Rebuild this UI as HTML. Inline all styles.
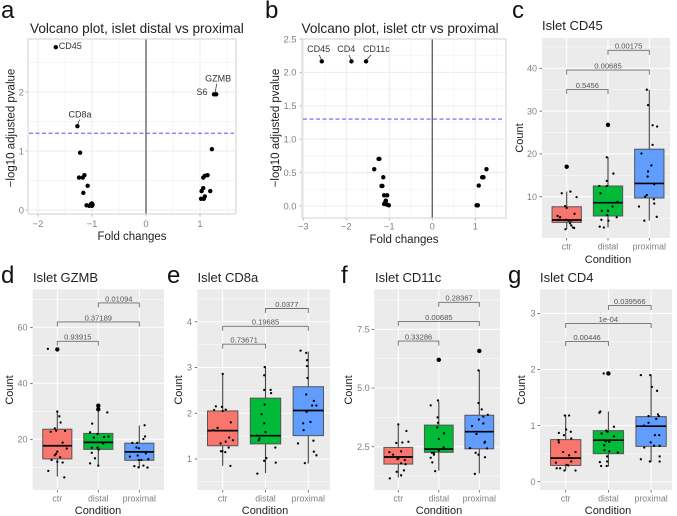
<!DOCTYPE html>
<html lang="en">
<head>
<meta charset="utf-8">
<title>Islet volcano and box plots</title>
<style>
html,body{margin:0;padding:0;background:#fff;width:677px;height:516px;overflow:hidden}
svg{display:block;font-family:"Liberation Sans",sans-serif}
.letter{font-size:24px;fill:#111}
.vtitle{font-size:13.6px;fill:#222}
.btitle{font-size:13px;fill:#222}
.axt{font-size:11.5px;fill:#222}
.axb{font-size:11px;fill:#222}
</style>
</head>
<body>
<svg id="fig" width="677" height="516" viewBox="0 0 677 516" xmlns="http://www.w3.org/2000/svg">
  <g id="panel-a"></g>
  <g id="panel-b"></g>
  <g id="panel-c"></g>
  <g id="panel-d"></g>
  <g id="panel-e"></g>
  <g id="panel-f"></g>
  <g id="panel-g"></g>

  <text class="letter" x="1" y="18">a</text>
  <text class="letter" x="265" y="18">b</text>
  <text class="letter" x="512" y="18">c</text>
  <text class="letter" x="1" y="283">d</text>
  <text class="letter" x="167" y="283">e</text>
  <text class="letter" x="341" y="283">f</text>
  <text class="letter" x="508" y="283">g</text>

  <text class="vtitle" x="30" y="33">Volcano plot, islet distal vs proximal</text>
  <text class="vtitle" x="301.5" y="33">Volcano plot, islet ctr vs proximal</text>
  <text class="btitle" x="542" y="30">Islet CD45</text>
  <text class="btitle" x="33" y="282">Islet GZMB</text>
  <text class="btitle" x="197.5" y="282">Islet CD8a</text>
  <text class="btitle" x="375" y="282">Islet CD11c</text>
  <text class="btitle" x="540" y="282">Islet CD4</text>

  <text class="axt" x="132" y="240" text-anchor="middle">Fold changes</text>
  <text class="axt" x="404" y="243" text-anchor="middle">Fold changes</text>
  <text class="axt" transform="translate(14.5 128) rotate(-90)" text-anchor="middle">−log10 adjusted pvalue</text>
  <text class="axt" transform="translate(279 128) rotate(-90)" text-anchor="middle">−log10 adjusted pvalue</text>

  <text class="axb" x="608" y="263" text-anchor="middle">Condition</text>
  <text class="axb" x="98" y="514" text-anchor="middle">Condition</text>
  <text class="axb" x="265" y="514" text-anchor="middle">Condition</text>
  <text class="axb" x="439" y="514" text-anchor="middle">Condition</text>
  <text class="axb" x="608" y="514" text-anchor="middle">Condition</text>

  <text class="axb" transform="translate(523 138) rotate(-90)" text-anchor="middle">Count</text>
  <text class="axb" transform="translate(13 390) rotate(-90)" text-anchor="middle">Count</text>
  <text class="axb" transform="translate(182 390) rotate(-90)" text-anchor="middle">Count</text>
  <text class="axb" transform="translate(352 390) rotate(-90)" text-anchor="middle">Count</text>
  <text class="axb" transform="translate(525 390) rotate(-90)" text-anchor="middle">Count</text>
</svg>

<script>
// ---------- shared data ----------
const categories = ['ctr', 'distal', 'proximal'];
const significanceLevel = 1.301;

// ---------- volcano a ----------
const volcanoAXTicks = [-2, -1, 0, 1];
const volcanoAYTicks = [0, 1, 2];
const volcanoAPoints = [[-1.67,2.76],[-1.27,1.42],[-1.22,0.97],[-1.24,0.55],[-1.17,0.55],[-1.14,0.59],[-1.08,0.41],[-1.16,0.29],[-1.10,0.08],[-1.05,0.07],[-1.0,0.11],[-1.0,0.07],[-1.02,0.10],[-0.99,0.09],[1.26,1.96],[1.30,1.96],[1.22,1.03],[1.06,0.55],[1.09,0.58],[1.14,0.59],[1.06,0.37],[1.03,0.32],[1.19,0.32],[1.02,0.19],[1.07,0.19],[1.09,0.23]];
const volcanoALabelled = [['CD45',-1.67,2.76],['CD8a',-1.27,1.42],['GZMB',1.30,1.96],['S6',1.26,1.96]];

// ---------- volcano b ----------
const volcanoBXTicks = [-3, -2, -1, 0, 1];
const volcanoBYTicks = [0, 0.5, 1, 1.5, 2, 2.5];
const volcanoBTickText = ['0.0', '0.5', '1.0', '1.5', '2.0', '2.5'];
const volcanoBPoints = [[-2.57,2.165],[-1.88,2.165],[-1.54,2.165],[-1.23,0.705],[-1.25,0.705],[-1.35,0.55],[-1.14,0.43],[-1.18,0.3],[-1.16,0.3],[-1.12,0.16],[-1.05,0.16],[-1.09,0.065],[-1.08,0.08],[-1.12,0.03],[-1.05,0.02],[-1.01,0.01],[-1.10,0.03],[1.03,0.01],[1.06,0.01],[1.08,0.305],[1.19,0.43],[1.16,0.43],[1.26,0.55]];
const volcanoBLabelled = [['CD45',-2.57,2.165],['CD4',-1.88,2.165],['CD11c',-1.54,2.165]];

// ---------- box plots: [low whisker, q1, median, q3, high whisker] ----------
const cd45Ticks = [10, 20, 30, 40];
const cd45Box = [[2.4,4.0,4.55,7.65,11.2],[2.8,5.5,8.6,12.5,19.3],[4.4,9.7,13.1,21.1,35]];
const cd45Outliers = [[17.0],[26.8],[]];
const cd45Pvalues = ['0.5456', '0.00685', '0.00175'];
const cd45Brackets = [35.06, 39.6, 44.2];
const cd45Points = [
 [[.09,11.2],[-.12,10.8],[.24,9.9],[-.04,7.8],[0,7.4],[-.22,5.5],[-.16,5.2],[.19,6.0],[-.2,4.6],[-.02,4.6],[.04,4.4],[.1,4.4],[.08,3.8],[.11,3.3],[.15,2.8],[.18,2.7],[-.03,2.4]],
 [[-.03,19.2],[.13,15.4],[-.03,13.7],[-.21,12.5],[-.03,12.5],[-.18,10.8],[.23,8.8],[.11,7.7],[-.15,6.7],[0,6.7],[-.02,5.7],[.21,5.2],[-.16,4.6],[.01,4.4],[-.2,3],[-.1,2.8]],
 [[-.06,35],[-.03,31.4],[.08,26.7],[.19,26.4],[.08,22.1],[-.19,20.1],[.05,17.3],[-.03,15.9],[-.04,14.7],[.12,12.9],[-.06,10.4],[-.1,10],[.11,9.4],[.12,8.4],[-.25,7.7],[.18,5.3],[-.12,4.4]]
];

const gzmbTicks = [20, 40, 60];
const gzmbBox = [[6.7,13,17.7,23.6,29.9],[10.5,16.4,18.9,22.1,30.5],[9.6,12.5,15.5,18.6,24.9]];
const gzmbOutliers = [[52.1],[32,30.7],[]];
const gzmbPvalues = ['0.93915', '0.37189', '0.01094'];
const gzmbBrackets = [55, 61.9, 68.7];
const gzmbPoints = [
 [[-.23,52.3],[0,29.9],[.05,28.2],[.08,26],[-.06,23.9],[-.16,22.7],[-.03,23.1],[.19,23],[.13,18.8],[.23,16.7],[0,15.6],[-.03,14.8],[-.06,14.3],[-.14,12.6],[.07,13.6],[0,12],[.13,11.7],[-.22,8.7],[.17,6.4]],
 [[.22,29.6],[-.15,25.6],[-.2,22.5],[-.02,21.9],[-.11,20.6],[.14,20.8],[.25,21],[.12,18.5],[-.16,17],[-.02,17],[.01,16.3],[-.16,15.2],[-.08,13.2],[-.2,11.4],[0,10.6]],
 [[.13,25],[.14,21],[.1,20.1],[-.17,18.7],[-.05,18.7],[-.07,17.1],[-.01,16.8],[.16,15],[-.04,14.2],[-.23,13.8],[-.01,12.6],[.05,12.6],[.22,12.9],[-.12,10.4],[-.02,10],[.1,10.6],[.2,9.9]]
];

const cd8aTicks = [1, 2, 3, 4];
const cd8aBox = [[.85,1.29,1.62,2.05,2.87],[.69,1.33,1.51,2.33,3.02],[.9,1.51,2.06,2.58,3.35]];
const cd8aOutliers = [[],[],[]];
const cd8aPvalues = ['0.73671', '0.19685', '0.0377'];
const cd8aBrackets = [3.51, 3.9, 4.29];
const cd8aPoints = [
 [[0,2.86],[-.16,2.15],[-.02,2.14],[-.2,2.07],[.07,2.08],[0,2.05],[.19,1.8],[-.12,1.68],[-.22,1.63],[.15,1.47],[.24,1.41],[.07,1.38],[-.05,1.34],[.14,1.25],[-.04,1.17],[-.01,1.17],[.06,1.15],[.18,.85]],
 [[-.02,3.01],[-.03,2.83],[-.03,2.51],[.12,2.51],[.13,2.44],[-.02,2.19],[-.09,1.98],[-.03,1.78],[0,1.59],[-.2,1.51],[-.14,1.45],[-.16,1.41],[.23,1.25],[.02,1.02],[-.03,.96],[.24,.92],[-.19,.68]],
 [[-.18,3.37],[-.05,3.32],[-.03,3.16],[-.03,3.03],[-.02,2.77],[-.05,2.41],[.13,2.27],[.09,2.17],[.19,2.17],[-.04,2.03],[.05,1.81],[-.12,1.78],[-.11,1.63],[-.24,1.34],[.12,1.4],[.13,1.16],[.19,1.08],[-.08,.91]]
];

const cd11cTicks = [2.5, 5, 7.5];
const cd11cTickText = ['2.5', '5.0', '7.5'];
const cd11cBox = [[1.19,1.76,2.06,2.47,3.47],[1.48,2.26,2.4,3.42,4.42],[1.36,2.41,3.14,3.84,5.77]];
const cd11cOutliers = [[],[6.2],[6.58]];
const cd11cPvalues = ['0.33286', '0.00685', '0.28367'];
const cd11cBrackets = [7.0, 7.83, 8.65];
const cd11cPoints = [
 [[0,3.45],[.2,3.17],[.25,2.71],[-.05,2.66],[.1,2.68],[-.22,2.27],[.07,2.3],[-.13,2.16],[0,2],[.16,1.93],[.07,1.79],[.18,1.75],[-.02,1.97],[.14,1.49],[-.04,1.43],[.07,1.28],[-.21,1.15]],
 [[-.02,4.47],[-.2,4.26],[-.03,3.75],[-.02,3.52],[-.04,3.32],[.13,3.07],[0,2.83],[.12,2.47],[0,2.33],[-.12,2.24],[-.17,2.24],[-.12,2.16],[-.2,2.03],[-.16,1.83],[-.09,1.46]],
 [[-.02,5.75],[-.02,4.36],[.21,3.86],[.06,4.09],[.1,3.78],[-.01,3.66],[.1,3.49],[-.18,3.38],[-.07,3.04],[.14,2.71],[.13,2.67],[-.23,2.44],[.19,2.43],[-.09,2.24],[-.02,2.16],[.14,2.05],[-.11,1.34]]
];

const cd4Ticks = [0, 1, 2, 3];
const cd4Box = [[.2,.29,.42,.75,1.19],[.27,.5,.74,.91,1.25],[.35,.63,.99,1.16,1.91]];
const cd4Outliers = [[],[1.93],[]];
const cd4Pvalues = ['0.00446', '1e-04', '0.039566'];
const cd4Brackets = [2.5, 2.82, 3.14];
const cd4Points = [
 [[-.02,1.18],[.08,1.18],[.01,.93],[.12,.89],[-.16,.87],[-.04,.83],[.13,.77],[-.17,.74],[-.16,.7],[-.06,.53],[.23,.53],[.08,.47],[.15,.42],[.13,.36],[-.23,.34],[.02,.3],[.06,.29],[-.21,.24],[-.13,.24],[-.03,.2],[.23,.2]],
 [[-.11,1.93],[-.19,1.25],[-.21,1.23],[.13,.98],[-.16,.86],[-.05,.91],[-.02,.89],[.13,.81],[-.1,.65],[-.06,.72],[.02,.71],[-.09,.56],[.02,.54],[.22,.52],[-.03,.45],[-.2,.35],[-.03,.36],[-.17,.28],[-.04,.28]],
 [[-.24,1.9],[-.02,1.9],[.02,1.69],[.14,1.62],[.16,1.2],[-.06,1.17],[.18,1.17],[.12,1.12],[-.06,1.05],[-.17,1],[.09,.83],[.19,.83],[-.01,.7],[-.16,.61],[.07,.64],[.2,.64],[-.24,.4],[-.03,.36],[.2,.45],[.2,.36]]
];

// ---------- drawing helpers ----------
const NS = 'http://www.w3.org/2000/svg';
function mk(parent, tag, attrs, text) {
  const el = document.createElementNS(NS, tag);
  for (const k in attrs) el.setAttribute(k, attrs[k]);
  if (text !== undefined) el.textContent = text;
  parent.appendChild(el);
  
  return el;
}
function scale(d0, d1, r0, r1) {
  return v => r0 + (v - d0) * (r1 - r0) / (d1 - d0);
}
function minorsOf(ticks, lo, hi) {
  const out = [];
  const step = ticks[1] - ticks[0];
  for (let i = -1; i < ticks.length; i++) {
    const m = ticks[0] + (i + 0.5) * step;
    if (m > lo && m < hi) out.push(m);
  }
  return out;
}
function fmtTick(v) {
  return v < 0 ? '\u2212' + Math.abs(v) : String(v);
}

function drawVolcano(id, rect, xDom, yDom, xTicks, yTicks, yText, points, xLabelY, yLabelX) {
  const g = document.getElementById(id);
  const x = scale(xDom[0], xDom[1], rect.l, rect.r);
  const y = scale(yDom[0], yDom[1], rect.b, rect.t);
  const bg = mk(g, 'rect', {x: rect.l, y: rect.t, width: rect.r - rect.l, height: rect.b - rect.t, fill: '#fff'});
  
  minorsOf(xTicks, xDom[0], xDom[1]).forEach(t => {
    const l = mk(g, 'line', {x1: x(t), x2: x(t), y1: rect.t, y2: rect.b, stroke: '#f3f3f3', 'stroke-width': 0.7});
    
  });
  minorsOf(yTicks, yDom[0], yDom[1]).forEach(t => {
    const l = mk(g, 'line', {x1: rect.l, x2: rect.r, y1: y(t), y2: y(t), stroke: '#f3f3f3', 'stroke-width': 0.7});
    
  });
  xTicks.forEach(t => {
    const l = mk(g, 'line', {x1: x(t), x2: x(t), y1: rect.t, y2: rect.b, stroke: '#ececec', 'stroke-width': 1});
    
    const tk = mk(g, 'line', {x1: x(t), x2: x(t), y1: rect.b, y2: rect.b + 2.5, stroke: '#aaa', 'stroke-width': 0.8});
    
    const tl = mk(g, 'text', {x: x(t), y: xLabelY, 'text-anchor': 'middle', 'font-size': 9.4, fill: '#808080'}, fmtTick(t));
    
  });
  yTicks.forEach((t, i) => {
    const l = mk(g, 'line', {x1: rect.l, x2: rect.r, y1: y(t), y2: y(t), stroke: '#ececec', 'stroke-width': 1});
    
    const tk = mk(g, 'line', {x1: rect.l - 2.5, x2: rect.l, y1: y(t), y2: y(t), stroke: '#aaa', 'stroke-width': 0.8});
    
    const tl = mk(g, 'text', {x: yLabelX, y: y(t) + 3.3, 'text-anchor': 'end', 'font-size': 9.4, fill: '#808080'}, yText ? yText[i] : fmtTick(t));
    
  });
  const sig = mk(g, 'line', {x1: rect.l + 1, x2: rect.r - 2, y1: y(significanceLevel), y2: y(significanceLevel), stroke: '#3a3af0', 'stroke-width': 0.9, 'stroke-dasharray': '4 2.5'});
  
  const zero = mk(g, 'line', {x1: x(0), x2: x(0), y1: rect.t, y2: rect.b, stroke: '#666', 'stroke-width': 1.4});
  
  const border = mk(g, 'rect', {x: rect.l, y: rect.t, width: rect.r - rect.l, height: rect.b - rect.t, fill: 'none', stroke: '#d2d2d2', 'stroke-width': 1});
  
  points.forEach(p => {
    const c = mk(g, 'circle', {cx: x(p[0]), cy: y(p[1]), r: 2.2, fill: '#000'});
    
  });
  return {g, x, y};
}

function labelPoint(ctx, item, dx, dy, anchor, seg) {
  const px = ctx.x(item[1]);
  const py = ctx.y(item[2]);
  const t = mk(ctx.g, 'text', {x: px + dx, y: py + dy, 'text-anchor': anchor, 'font-size': 9, fill: '#333'}, item[0]);
  
  if (seg) {
    const s = mk(ctx.g, 'line', {x1: px + seg[0], y1: py + seg[1], x2: px + seg[2], y2: py + seg[3], stroke: '#222', 'stroke-width': 0.7});
    
  }
}

const boxColors = ['#F8766D', '#00BA38', '#619CFF'];
const BOX_HALF = 0.355;

function drawBoxPanel(id, rect, center, step, yDom, ticks, tickText, box, outliers, points, brackets, pvalues, tickLabelY, yLabelX) {
  const g = document.getElementById(id);
  const x = i => center + i * step;
  const y = scale(yDom[0], yDom[1], rect.b, rect.t);
  const bg = mk(g, 'rect', {x: rect.l, y: rect.t, width: rect.r - rect.l, height: rect.b - rect.t, fill: '#EBEBEB'});
  
  minorsOf(ticks, yDom[0], yDom[1]).forEach(t => {
    const l = mk(g, 'line', {x1: rect.l, x2: rect.r, y1: y(t), y2: y(t), stroke: '#fff', 'stroke-width': 0.5});
    
  });
  ticks.forEach((t, i) => {
    const l = mk(g, 'line', {x1: rect.l, x2: rect.r, y1: y(t), y2: y(t), stroke: '#fff', 'stroke-width': 1});
    
    const tk = mk(g, 'line', {x1: rect.l - 2.5, x2: rect.l, y1: y(t), y2: y(t), stroke: '#555', 'stroke-width': 0.8});
    
    const tl = mk(g, 'text', {x: yLabelX, y: y(t) + 3.2, 'text-anchor': 'end', 'font-size': 9, fill: '#808080'}, tickText ? tickText[i] : String(t));
    
  });
  categories.forEach((c, i) => {
    const l = mk(g, 'line', {x1: x(i), x2: x(i), y1: rect.t, y2: rect.b, stroke: '#fff', 'stroke-width': 1});
    
    const tk = mk(g, 'line', {x1: x(i), x2: x(i), y1: rect.b, y2: rect.b + 2.5, stroke: '#555', 'stroke-width': 0.8});
    
    const tl = mk(g, 'text', {x: x(i), y: tickLabelY, 'text-anchor': 'middle', 'font-size': 8.8, fill: '#808080'}, c);
    
  });
  box.forEach((b, i) => {
    const w = mk(g, 'line', {x1: x(i), x2: x(i), y1: y(b[0]), y2: y(b[4]), stroke: '#444', 'stroke-width': 1.1});
    
    const r = mk(g, 'rect', {x: x(i) - BOX_HALF * step, y: y(b[3]), width: 2 * BOX_HALF * step, height: y(b[1]) - y(b[3]), fill: boxColors[i], stroke: '#555', 'stroke-width': 1});
    
    const m = mk(g, 'line', {x1: x(i) - BOX_HALF * step, x2: x(i) + BOX_HALF * step, y1: y(b[2]), y2: y(b[2]), stroke: '#000', 'stroke-width': 1.7});
    
  });
  outliers.forEach((list, i) => list.forEach(v => {
    const c = mk(g, 'circle', {cx: x(i), cy: y(v), r: 2.2, fill: '#000'});
    
  }));
  points.forEach((list, i) => list.forEach(p => {
    const c = mk(g, 'circle', {cx: x(i + p[0]) , cy: y(p[1]), r: 1.15, fill: '#000'});
    
  }));
  const pairs = [[0, 1], [0, 2], [1, 2]];
  brackets.forEach((v, i) => {
    const x0 = x(pairs[i][0]);
    const x1 = x(pairs[i][1]);
    const yy = y(v);
    const b = mk(g, 'path', {d: 'M' + x0 + ' ' + (yy + 4.5) + 'V' + yy + 'H' + x1 + 'V' + (yy + 4.5), fill: 'none', stroke: '#6e6e6e', 'stroke-width': 0.9});
    
    const t = mk(g, 'text', {x: (x0 + x1) / 2, y: yy - 1.6, 'text-anchor': 'middle', 'font-size': 7.6, fill: '#555'}, pvalues[i]);
    
  });
}

// ---------- render ----------
const ctxA = drawVolcano('panel-a', {l: 28, r: 236, t: 39, b: 214}, [-2.185, 1.667], [-0.068, 2.898], volcanoAXTicks, volcanoAYTicks, null, volcanoAPoints, 227, 24);
labelPoint(ctxA, volcanoALabelled[0], 3, 2, 'start', null);
labelPoint(ctxA, volcanoALabelled[1], 2.6, -8.5, 'middle', [2, -6.5, 0.6, -2]);
labelPoint(ctxA, volcanoALabelled[2], 2, -12.7, 'middle', [0.5, -10.5, -1, -2]);
labelPoint(ctxA, volcanoALabelled[3], -6.5, 0.6, 'end', null);

const ctxB = drawVolcano('panel-b', {l: 302, r: 506, t: 39, b: 218}, [-3.03, 1.714], [-0.18, 2.5], volcanoBXTicks, volcanoBYTicks, volcanoBTickText, volcanoBPoints, 229.5, 296.5);
labelPoint(ctxB, volcanoBLabelled[0], -3.1, -9.4, 'middle', [-2.5, -6.5, -0.5, -2]);
labelPoint(ctxB, volcanoBLabelled[1], -5.2, -9.4, 'middle', [-2.5, -6.5, -0.5, -2]);
labelPoint(ctxB, volcanoBLabelled[2], 10.3, -9.4, 'middle', [5, -6.5, 1, -2]);

drawBoxPanel('panel-c', {l: 542, r: 670, t: 38, b: 238}, 566.7, 41.3, [0.35, 47.08], cd45Ticks, null, cd45Box, cd45Outliers, cd45Points, cd45Brackets, cd45Pvalues, 249.5, 537);
drawBoxPanel('panel-d', {l: 32.7, r: 164, t: 289.3, b: 490}, 57.3, 41, [1.89, 73.57], gzmbTicks, null, gzmbBox, gzmbOutliers, gzmbPoints, gzmbBrackets, gzmbPvalues, 501.5, 27.5);
drawBoxPanel('panel-e', {l: 197.3, r: 330, t: 289.3, b: 490}, 222.7, 42.8, [0.322, 4.71], cd8aTicks, null, cd8aBox, cd8aOutliers, cd8aPoints, cd8aBrackets, cd8aPvalues, 501.5, 192);
drawBoxPanel('panel-f', {l: 374.3, r: 500, t: 289.3, b: 490}, 398.3, 40.5, [0.655, 9.206], cd11cTicks, cd11cTickText, cd11cBox, cd11cOutliers, cd11cPoints, cd11cBrackets, cd11cPvalues, 501.5, 369.7);
drawBoxPanel('panel-g', {l: 540, r: 672, t: 289.3, b: 490}, 565.7, 42.7, [-0.148, 3.43], cd4Ticks, null, cd4Box, cd4Outliers, cd4Points, cd4Brackets, cd4Pvalues, 501.5, 535.5);
</script>
</body>
</html>
